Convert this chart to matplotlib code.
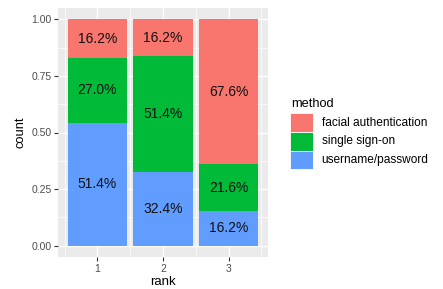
import matplotlib
matplotlib.use("Agg")
import matplotlib.pyplot as plt
from matplotlib.patches import Rectangle
import numpy as np

ranks = [1, 2, 3]
methods = ["facial authentication", "single sign-on", "username/password"]
colors = ["#F8766D", "#00BA38", "#619CFF"]
total_respondents = 37
# counts per rank (stack order bottom->top: username/password, single sign-on, facial authentication)
username_password = [19, 12, 6]
single_sign_on = [10, 19, 8]
facial_authentication = [6, 6, 25]

plt.rcParams['font.family'] = ['Liberation Sans', 'DejaVu Sans']

fig = plt.figure(figsize=(4.43, 2.89), dpi=100)
ax = fig.add_axes([58/443, 1-257/289, 210/443, 249/289])
ax.set_facecolor("#EBEBEB")

series_bottom_up = [username_password, single_sign_on, facial_authentication]
series_colors = [colors[2], colors[1], colors[0]]
totals = np.sum(np.array(series_bottom_up), axis=0)
bottom = np.zeros(3)
for vals, col in zip(series_bottom_up, series_colors):
    frac = np.array(vals) / totals
    ax.bar(ranks, frac, bottom=bottom, width=0.9, color=col, zorder=3, linewidth=0)
    for x, b, f, v in zip(ranks, bottom, frac, vals):
        ax.text(x, b + f/2, f"{100*v/total_respondents:.1f}%", ha='center', va='center',
                fontsize=10, color='#111111', zorder=4)
    bottom = bottom + frac

ax.set_xlim(0.4, 3.6)
ax.set_ylim(-0.05, 1.05)
ax.set_xticks(ranks)
ax.set_xticks([0.5, 1.5, 2.5, 3.5], minor=True)
ax.set_yticks([0, 0.25, 0.5, 0.75, 1.0])
ax.set_yticklabels(["0.00", "0.25", "0.50", "0.75", "1.00"])
ax.set_yticks([0.125, 0.375, 0.625, 0.875], minor=True)
ax.grid(which='major', color='white', linewidth=1.0, zorder=0)
ax.grid(which='minor', color='white', linewidth=0.5, zorder=0)
ax.set_axisbelow(True)
for s in ax.spines.values():
    s.set_visible(False)
ax.tick_params(which='major', length=2.75, width=0.8, color='#333333', labelcolor='#4D4D4D', labelsize=7.5, pad=2)
ax.tick_params(which='minor', length=0)
ax.set_xlabel("rank", fontsize=9.5, labelpad=2)
ax.set_ylabel("count", fontsize=9.3, labelpad=3)

# legend
fig.text(291/443, 1-104/289, "method", fontsize=9.2, ha='left', va='center')
key_top = 113.3
key_h = 18.7
for i, (m, c) in enumerate(zip(methods, colors)):
    y0 = key_top + i*key_h
    fig.add_artist(Rectangle((290/443, 1-(y0+key_h)/289), 23/443, key_h/289,
                             facecolor=c, edgecolor='white', linewidth=0.6, transform=fig.transFigure))
    fig.text(321.5/443, 1-(y0+key_h/2)/289, m, fontsize=8.6, ha='left', va='center')

fig.savefig("out.png", dpi=100, facecolor='white')
